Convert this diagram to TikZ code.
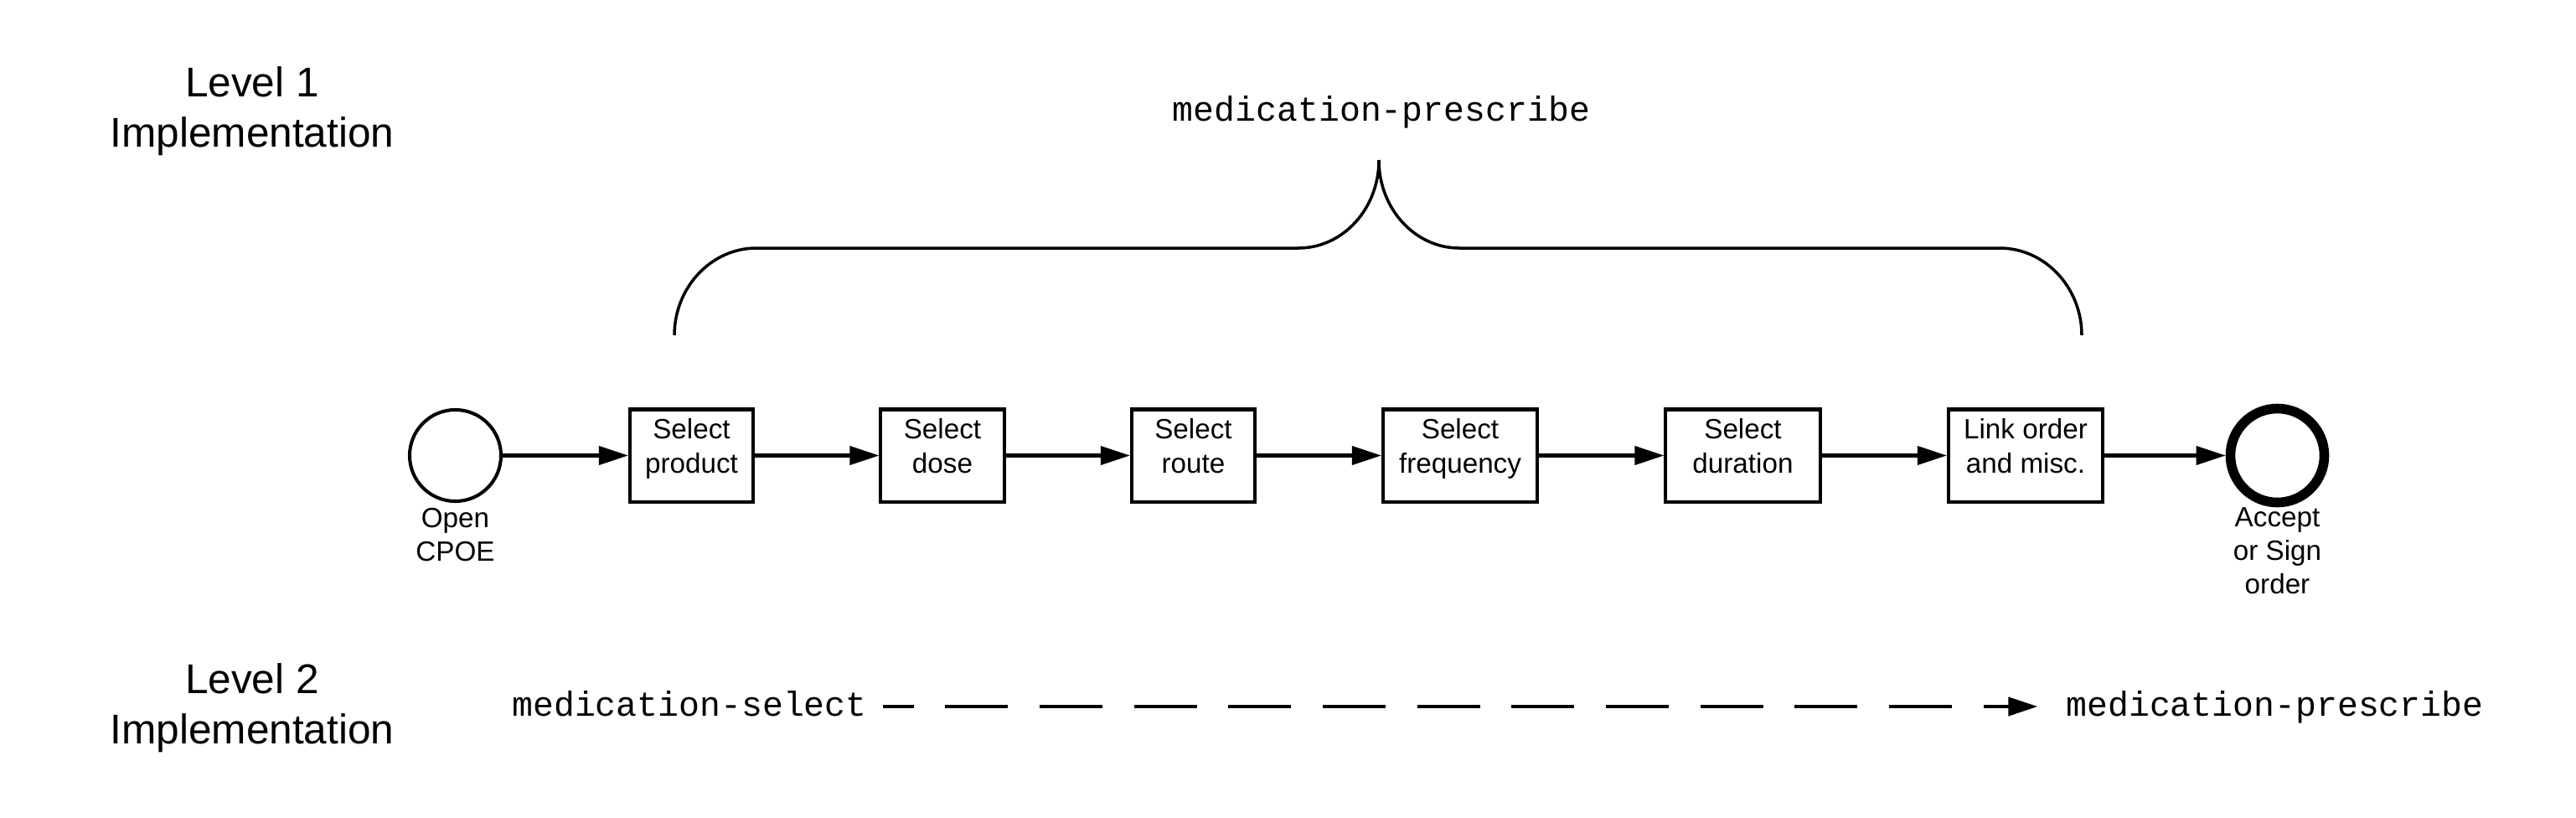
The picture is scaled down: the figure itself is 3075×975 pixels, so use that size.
\documentclass[tikz,border=0pt]{standalone}
\usepackage{fontspec}
\setmainfont{Liberation Sans}
\newfontfamily\codefont{Liberation Mono}
\usetikzlibrary{arrows.meta}
\newcommand{\mylines}[1]{\begin{tabular}{@{}c@{}}#1\end{tabular}}
\begin{document}
\begin{tikzpicture}[x=0.01cm, y=-0.01cm,
  line width=1.15pt,
  every node/.style={inner sep=0pt},
  task/.style={draw, rectangle, minimum height=1.10cm},
  narrow/.style={task, minimum width=1.47cm},
  wide/.style={task, minimum width=1.84cm},
  lbl/.style={font=\fontsize{9.45}{11.43}\selectfont},
  level/.style={font=\fontsize{14.1}{17.07}\selectfont},
  code/.style={font=\codefont\fontsize{11.8}{14}\selectfont, text height=8.8pt, text depth=2.3pt},
  startev/.style={draw, circle, minimum size=1.09cm},
  endev/.style={draw, circle, minimum size=1.12cm, line width=3.3pt},
  flow/.style={-{Triangle[length=0.35cm, width=0.22cm]}},
  bracket/.style={line width=1pt},
]
\useasboundingbox (0,0) rectangle (3075,975);

% level labels
\node[level] (lv1) at (301,133) {\mylines{Level 1\\Implementation}};
\node[level] (lv2) at (301,845.5) {\mylines{Level 2\\Implementation}};

% top label and brace
\node[code] (toplabel) at (1649,133) {medication-prescribe};
\draw[bracket] (805,400) .. controls (805,343) and (849,296) .. (903,296)
  -- (1550,296) .. controls (1603,296) and (1646,249) .. (1646,191)
  .. controls (1646,249) and (1689,296) .. (1742,296)
  -- (2387,296) .. controls (2441,296) and (2485,343) .. (2485,400);

% process row
\node[startev] (open) at (543.5,543.5) {};
\node[narrow] (prod) at (825.5,543.5) {};
\node[narrow] (dose) at (1125,543.5) {};
\node[narrow] (route) at (1424.5,543.5) {};
\node[wide] (freq) at (1743,543.5) {};
\node[wide] (dur) at (2080.5,543.5) {};
\node[wide] (link) at (2418,543.5) {};
\node[endev] (accept) at (2718.5,543.5) {};

\node[lbl] (prodt) at (825.5,536) {\mylines{Select\\product}};
\node[lbl] (doset) at (1125,536) {\mylines{Select\\dose}};
\node[lbl] (routet) at (1424.5,536) {\mylines{Select\\route}};
\node[lbl] (freqt) at (1743,536) {\mylines{Select\\frequency}};
\node[lbl] (durt) at (2080.5,536) {\mylines{Select\\duration}};
\node[lbl] (linkt) at (2418,536) {\mylines{Link order\\and misc.}};

\node[lbl, anchor=north] (openl) at (543.5,599) {\mylines{Open\\CPOE}};
\node[lbl, anchor=north] (acceptl) at (2718.5,598) {\mylines{Accept\\or Sign\\order}};

\draw[flow] (open) -- (prod);
\draw[flow] (prod) -- (dose);
\draw[flow] (dose) -- (route);
\draw[flow] (route) -- (freq);
\draw[flow] (freq) -- (dur);
\draw[flow] (dur) -- (link);
\draw[flow] (link) -- (accept);

% level 2
\node[code] (msel) at (823,843) {medication-select};
\node[code] (mpre) at (2715.5,843) {medication-prescribe};
\draw[flow, dash pattern=on 0.75cm off 0.376cm, dash phase=0.386cm,
      shorten <=0.175cm, shorten >=0.32cm] (msel) -- (mpre);
\end{tikzpicture}
\end{document}
